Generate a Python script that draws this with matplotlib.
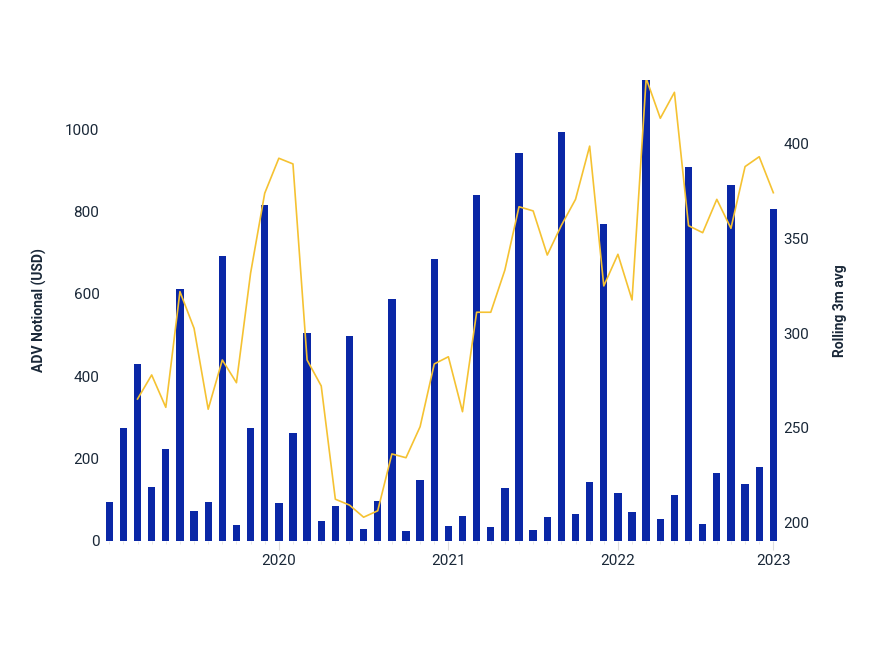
import matplotlib.pyplot as plt
import numpy as np

plt.rcParams['font.family'] = ['Roboto', 'DejaVu Sans']

# monthly ADV notional, Jan 2019 .. Dec 2022
adv_notional = [93, 275, 430, 131, 223, 613, 73, 95, 692, 37, 273, 815,
                91, 263, 505, 49, 85, 498, 29, 96, 587, 24, 147, 685,
                36, 60, 841, 34, 127, 942, 26, 58, 993, 65, 143, 770,
                115, 70, 1120, 52, 111, 908, 41, 164, 864, 138, 180, 806]

# rolling 3 month average (starts at the third month)
rolling_avg = [265.3, 278.0, 260.9, 322.0, 302.6, 259.9, 285.9, 273.9, 331.7,
               373.9, 392.4, 389.4, 285.9, 272.2, 212.4, 209.3, 202.9, 206.3,
               236.3, 234.3, 250.7, 283.8, 287.6, 258.6, 311.1, 311.1, 333.4,
               366.8, 364.6, 341.3, 357.0, 370.7, 398.8, 325.0, 341.7, 317.6,
               434.6, 413.5, 427.2, 356.8, 353.1, 370.7, 355.4, 388.0, 393.2,
               374.2]

year_ticks = [12, 24, 36, 47]
year_labels = ["2020", "2021", "2022", "2023"]

BAR_COLOR = "#0a27a6"
LINE_COLOR = "#f5c232"
TEXT_COLOR = "#1a2838"

fig = plt.figure(figsize=(8.7, 6.64), dpi=100)
ax = fig.add_axes([0.1175, 0.1857, 0.7795, 0.6938])

x = np.arange(len(adv_notional))
ax.bar(x, adv_notional, width=0.52, color=BAR_COLOR, zorder=2)
ax.set_xlim(-0.5, len(adv_notional) - 0.5)
ax.set_ylim(0, 1120)
ax.set_yticks([0, 200, 400, 600, 800, 1000])
ax.set_ylabel("ADV Notional (USD)", fontsize=10, fontweight='bold',
              color=TEXT_COLOR, labelpad=13)

ax2 = ax.twinx()
ax2.plot(x[2:], rolling_avg, color=LINE_COLOR, linewidth=1.2, zorder=3)
ax2.set_ylim(190.5, 433.7)
ax2.set_yticks([200, 250, 300, 350, 400])
ax2.set_ylabel("Rolling 3m avg", fontsize=10, fontweight='bold',
               color=TEXT_COLOR, labelpad=17)

ax.set_xticks(year_ticks)
ax.set_xticklabels(year_labels)
ax.set_xticks(x, minor=True)
ax.tick_params(axis='x', which='major', length=6.5, width=0.8, color='#dddddd',
               labelsize=11, labelcolor=TEXT_COLOR, pad=3)
ax.tick_params(axis='x', which='minor', length=2.5, width=0.6, color='#e4e4e4')
ax.tick_params(axis='y', length=0, labelsize=11, labelcolor=TEXT_COLOR, pad=2)
ax2.tick_params(axis='y', length=0, labelsize=11, labelcolor=TEXT_COLOR, pad=2)

for a in (ax, ax2):
    for s in a.spines.values():
        s.set_visible(False)

fig.savefig("out.png", dpi=100)
